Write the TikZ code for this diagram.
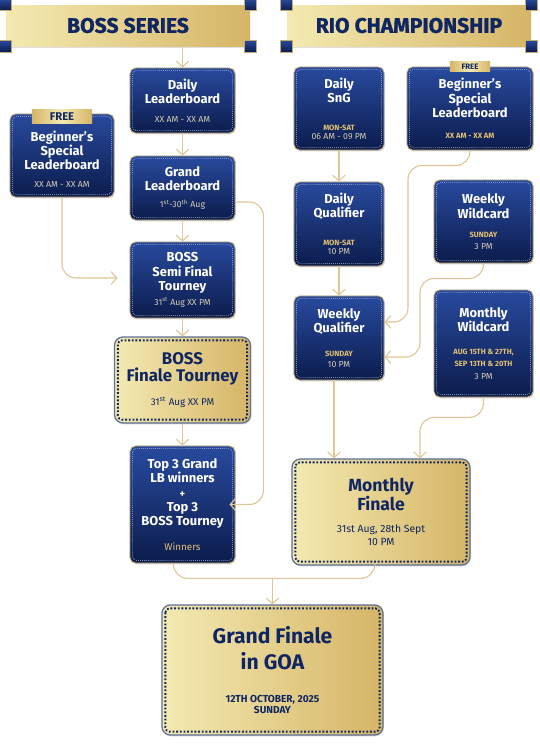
\documentclass[tikz,border=0pt]{standalone}
\usepackage{fontspec}
\setmainfont{Fira Sans}
\newfontfamily\headfont{Fira Sans}[FakeBold=1.2]
\usetikzlibrary{arrows.meta,positioning,calc,shadows}
\definecolor{navy}{RGB}{16,38,98}
\definecolor{bluetop}{RGB}{40,74,158}
\definecolor{bluebot}{RGB}{12,28,76}
\definecolor{boxedge}{RGB}{196,170,112}
\definecolor{goldlt}{RGB}{243,234,178}
\definecolor{golddk}{RGB}{214,181,102}
\definecolor{steel}{RGB}{92,112,152}
\definecolor{linegold}{RGB}{222,198,150}
\definecolor{txtgold}{RGB}{224,192,116}
\definecolor{txtpale}{RGB}{214,204,180}
\newcommand\ttlfont{\fontsize{9.2}{10.2}\selectfont\bfseries}
\newcommand\smlfont{\fontsize{6.2}{7.4}\selectfont\mdseries}
\newcommand\tagfont{\fontsize{5.4}{7.4}\selectfont\bfseries}

\begin{document}
\begin{tikzpicture}[x=0.025cm,y=-0.025cm,
    banner/.style={left color=goldlt,right color=golddk,minimum width=6.1cm,minimum height=1.025cm,
      text=navy,font=\headfont\fontsize{15}{16}\selectfont\bfseries,
      drop shadow={opacity=0.25,shadow xshift=0pt,shadow yshift=-1.5pt}},
    stud/.style={draw=boxedge,line width=0.5pt,top color=bluetop,bottom color=bluebot,
      minimum size=0.3cm,inner sep=0pt},
    bluebox/.style={draw=boxedge,line width=0.6pt,rounded corners=4pt,top color=bluetop,
      bottom color=bluebot,text=white,align=center,font=\ttlfont,inner sep=0pt,
      drop shadow={opacity=0.3,shadow xshift=0.6pt,shadow yshift=-1pt}},
    goldbox/.style={draw=steel,line width=0.9pt,rounded corners=6pt,left color=goldlt,
      right color=golddk,text=navy,align=center,inner sep=0pt,font=\fontsize{7}{8.5}\selectfont,
      drop shadow={opacity=0.3,shadow xshift=0.6pt,shadow yshift=-1pt}},
    freetag/.style={left color=golddk,right color=golddk,middle color=goldlt,text=navy,
      inner sep=0pt},
    link/.style={draw=linegold,line width=0.8pt,-{Straight Barb[length=4pt,width=9pt]}},
    wire/.style={draw=linegold,line width=0.8pt}]
  \useasboundingbox (0,0) rectangle (540,746);

  % headings with their corner studs
  \node[banner] (boss) at (128,25.5) {BOSS SERIES};
  \node[banner] (rio) at (409,25.5) {RIO CHAMPIONSHIP};
  \foreach \b in {boss,rio}
    \foreach \a/\k in {north west/nw,north east/ne,south west/sw,south east/se}
      \node[stud] (\b\k) at (\b.\a) {};

  % boss series column
  \node[bluebox,minimum width=2.625cm,minimum height=1.625cm] (dailylb) at (182.5,100.5)
    {Daily\\Leaderboard\\[3.3pt]{\smlfont\color{txtpale}XX AM - XX AM}};
  \node[bluebox,minimum width=2.6cm,minimum height=2.075cm] (beglb) at (62,155.5)
    {\\[2pt]Beginner’s\\Special\\Leaderboard\\[2pt]{\smlfont\color{txtpale}XX AM - XX AM}};
  \node[bluebox,minimum width=2.625cm,minimum height=1.6cm] (grandlb) at (182.5,188)
    {Grand\\Leaderboard\\[2pt]{\smlfont\color{txtpale}1\textsuperscript{st}-30\textsuperscript{th} Aug}};
  \node[bluebox,minimum width=2.625cm,minimum height=1.9cm] (semi) at (182.5,280)
    {BOSS\\Semi Final\\Tourney\\[0.5pt]{\smlfont\color{txtpale}31\textsuperscript{st} Aug XX PM}};
  \node[goldbox,minimum width=3.4cm,minimum height=2.15cm] (finale) at (182.5,380)
    {{\fontsize{12}{13.5}\selectfont\bfseries BOSS}\\[1.5pt]{\fontsize{12}{13.5}\selectfont\bfseries Finale Tourney}\\[7pt]{\fontsize{7}{8}\selectfont 31\textsuperscript{st} Aug XX PM}};
  \node[bluebox,minimum width=2.625cm,minimum height=2.925cm] (top3) at (182.5,504.5)
    {Top 3 Grand\\LB winners\\{\fontsize{7.5}{8}\selectfont +}\\Top 3\\BOSS Tourney\\[7pt]{\fontsize{7}{8}\selectfont\mdseries\color{txtgold}Winners}};

  % rio championship column
  \node[bluebox,minimum width=2.25cm,minimum height=2.075cm] (sng) at (339,108.5)
    {Daily\\SnG\\[9.6pt]{\tagfont\color{txtgold}MON-SAT}\\[-3.8pt]{\smlfont\color{txtpale}06 AM - 09 PM}};
  \node[bluebox,minimum width=3.15cm,minimum height=2.075cm] (begrio) at (470,108.5)
    {Beginner’s\\Special\\Leaderboard\\[4.7pt]{\tagfont\color{txtgold}XX AM - XX AM}};
  \node[bluebox,minimum width=2.25cm,minimum height=2.1cm] (dq) at (339,224)
    {Daily\\Qualifier\\[9.6pt]{\tagfont\color{txtgold}MON-SAT}\\[-3.8pt]{\smlfont\color{txtpale}10 PM}};
  \node[bluebox,minimum width=2.475cm,minimum height=2.075cm] (ww) at (483.5,221.5)
    {Weekly\\Wildcard\\[3.3pt]{\tagfont\color{txtgold}SUNDAY}\\[-1.7pt]{\smlfont\color{txtpale}3 PM}};
  \node[bluebox,minimum width=2.25cm,minimum height=2.1cm] (wq) at (339,338)
    {Weekly\\Qualifier\\[6.8pt]{\tagfont\color{txtgold}SUNDAY}\\[-2.4pt]{\smlfont\color{txtpale}10 PM}};
  \node[bluebox,minimum width=2.475cm,minimum height=2.675cm] (mw) at (483.5,343.5)
    {Monthly\\Wildcard\\[6.5pt]{\tagfont\color{txtgold}AUG 15TH \& 27TH,}\\[-1.7pt]{\tagfont\color{txtgold}SEP 13TH \& 20TH}\\[-1pt]{\smlfont\color{txtpale}3 PM}};
  \node[goldbox,minimum width=4.45cm,minimum height=2.65cm] (mf) at (381,512)
    {{\fontsize{12.5}{13}\selectfont\bfseries Monthly}\\[-0.3pt]{\fontsize{12.5}{13}\selectfont\bfseries Finale}\\[7.1pt]{\fontsize{7.4}{9.6}\selectfont 31st Aug, 28th Sept}\\[0.7pt]{\fontsize{7.4}{9.6}\selectfont 10 PM}};

  % grand finale
  \node[goldbox,minimum width=5.525cm,minimum height=3.25cm] (gf) at (272.5,670)
    {{\fontsize{15}{19.5}\selectfont\bfseries Grand Finale}\\[5pt]{\fontsize{15}{19.5}\selectfont\bfseries in GOA}\\[14.8pt]{\fontsize{7.2}{8.6}\selectfont\bfseries 12TH OCTOBER, 2025}\\[-1pt]{\fontsize{7.2}{8.6}\selectfont\bfseries SUNDAY}};

  % inner stitched borders
  \foreach \n in {dailylb,beglb,grandlb,semi,top3,sng,begrio,dq,ww,wq,mw}
    \draw[white!65!bluetop,line width=0.4pt,dash pattern=on 0.6pt off 0.8pt,rounded corners=2.5pt]
      ($(\n.north west)+(3,3)$) rectangle ($(\n.south east)+(-3,-3)$);
  \foreach \n in {finale,mf,gf}
    \draw[navy,line width=1.3pt,dash pattern=on 1.3pt off 1.3pt,rounded corners=3pt]
      ($(\n.north west)+(4,4)$) rectangle ($(\n.south east)+(-4,-4)$);

  % free ribbons
  \node[freetag,minimum width=1.5cm,minimum height=0.35cm,font=\fontsize{8}{9}\selectfont\bfseries]
    (freel) at ($(beglb.north)+(0,3)$) {FREE};
  \node[freetag,minimum width=1cm,minimum height=0.27cm,font=\fontsize{5.6}{6}\selectfont\bfseries]
    (freer) at (begrio.north) {FREE};

  % boss connectors
  \draw[link] (boss.south -| dailylb.north) -- (dailylb.north);
  \draw[link] (dailylb) -- (grandlb);
  \draw[link] (grandlb) -- (semi);
  \draw[link] (semi) -- (finale);
  \draw[link] (finale) -- (top3);
  \draw[link,rounded corners=10pt] (beglb.south) |- ($(semi.west)+(-12,-2)$);
  \draw[link,rounded corners=10pt] ($(grandlb.east)+(0,14)$) -- ++(28,0) |- ($(top3.east)+(-6,0)$);

  % rio connectors
  \draw[link] (sng) -- (dq);
  \draw[link] (dq) -- (wq);
  \draw[link,rounded corners=10pt] (begrio.south) -- ++(0,15) -- ++(-62,0) |- ($(wq.east)+(0,-16)$);
  \draw[link,rounded corners=10pt] (ww.south) -- ++(0,15) -- ++(-63.5,0) |- ($(wq.east)+(0,19)$);
  \draw[link,rounded corners=10pt] (mw.south) -- ++(0,20) -| ($(mf.north)+(39,0)$);
  \draw[link] ($(wq.south)+(-5,0)$) -- ($(wq.south |- mf.north)+(-5,0)$);

  % into the grand finale
  \coordinate (meet) at ($(gf.north)+(0,-26)$);
  \draw[wire,rounded corners=10pt] ($(top3.south)+(-9,0)$) |- (meet) -| ($(mf.south)+(-6,0)$);
  \draw[link] (meet) -- (gf.north);
\end{tikzpicture}
\end{document}
